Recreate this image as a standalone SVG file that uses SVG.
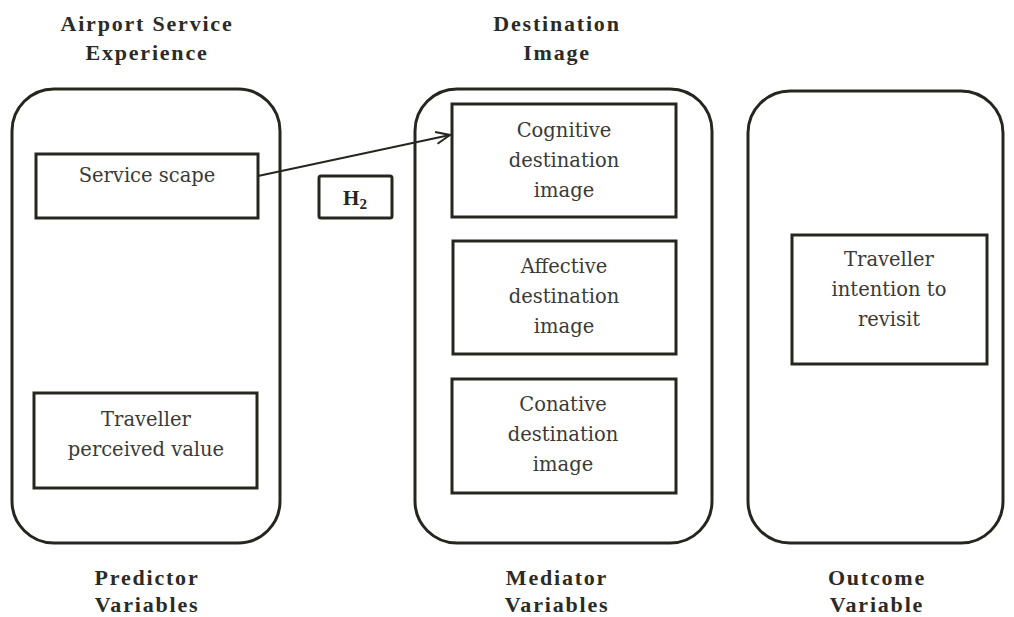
<svg xmlns="http://www.w3.org/2000/svg" width="1014" height="617" viewBox="0 0 1014 617">
  <defs>
    <style>
      .group { fill: none; stroke: #26261f; stroke-width: 3; }
      .box { fill: #ffffff; stroke: #26261f; stroke-width: 3; }
      .label { font-family: "DejaVu Serif", "Liberation Serif", serif; font-size: 19.5px; fill: #3a3a36; text-anchor: middle; }
      .title { font-family: "Liberation Serif", "Times New Roman", serif; font-weight: bold; font-size: 22px; letter-spacing: 1.8px; fill: #2b2b26; text-anchor: middle; }
      .hyp { font-family: "Liberation Serif", "Times New Roman", serif; font-weight: bold; font-size: 21px; fill: #26261f; text-anchor: middle; }
      .conn { fill: none; stroke: #26261f; stroke-width: 2; }
    </style>
    <marker id="openArrow" viewBox="0 0 16 14" refX="15" refY="7" markerWidth="16" markerHeight="14" markerUnits="userSpaceOnUse" orient="auto">
      <path d="M1,1 L15,7 L1,13" fill="none" stroke="#26261f" stroke-width="2"/>
    </marker>
  </defs>

  <rect width="1014" height="617" fill="#ffffff"/>

  <!-- Predictor column -->
  <g id="predictor-variables">
    <text class="title" x="147" y="31">Airport Service</text>
    <text class="title" x="147" y="60">Experience</text>
    <rect class="group" x="12" y="89" width="268" height="454" rx="42" ry="42"/>
    <text class="title" x="147" y="585">Predictor</text>
    <text class="title" x="147" y="612">Variables</text>
  </g>

  <g id="service-scape">
    <rect class="box" x="36" y="154" width="222" height="64"/>
    <text class="label" x="147" y="182">Service scape</text>
  </g>

  <g id="traveller-perceived-value">
    <rect class="box" x="34" y="393" width="223" height="95"/>
    <text class="label" x="146" y="426">Traveller</text>
    <text class="label" x="146" y="456">perceived value</text>
  </g>

  <!-- Mediator column -->
  <g id="mediator-variables">
    <text class="title" x="557" y="31">Destination</text>
    <text class="title" x="557" y="60">Image</text>
    <rect class="group" x="415" y="89" width="297" height="454" rx="42" ry="42"/>
    <text class="title" x="557" y="585">Mediator</text>
    <text class="title" x="557" y="612">Variables</text>
  </g>

  <g id="cognitive-destination-image">
    <rect class="box" x="452" y="104" width="224" height="113"/>
    <text class="label" x="564" y="137">Cognitive</text>
    <text class="label" x="564" y="167">destination</text>
    <text class="label" x="564" y="197">image</text>
  </g>

  <g id="affective-destination-image">
    <rect class="box" x="453" y="241" width="223" height="113"/>
    <text class="label" x="564" y="273">Affective</text>
    <text class="label" x="564" y="303">destination</text>
    <text class="label" x="564" y="333">image</text>
  </g>

  <g id="conative-destination-image">
    <rect class="box" x="452" y="379" width="224" height="114"/>
    <text class="label" x="563" y="411">Conative</text>
    <text class="label" x="563" y="441">destination</text>
    <text class="label" x="563" y="471">image</text>
  </g>

  <!-- Outcome column -->
  <g id="outcome-variable">
    <rect class="group" x="748" y="91" width="255" height="452" rx="42" ry="42"/>
    <text class="title" x="877" y="585">Outcome</text>
    <text class="title" x="877" y="612">Variable</text>
  </g>

  <g id="traveller-intention-to-revisit">
    <rect class="box" x="792" y="235" width="195" height="129"/>
    <text class="label" x="889" y="266">Traveller</text>
    <text class="label" x="889" y="296">intention to</text>
    <text class="label" x="889" y="326">revisit</text>
  </g>

  <!-- Hypothesis tag -->
  <g id="hypothesis-h2">
    <rect class="box" x="319" y="176" width="73" height="42" rx="2" ry="2"/>
    <text class="hyp" x="355" y="205">H<tspan font-size="15" dy="4">2</tspan></text>
  </g>

  <!-- Connectors -->
  <g id="connectors">
    <line class="conn" x1="258" y1="176" x2="450" y2="135" marker-end="url(#openArrow)"/>
  </g>
</svg>
